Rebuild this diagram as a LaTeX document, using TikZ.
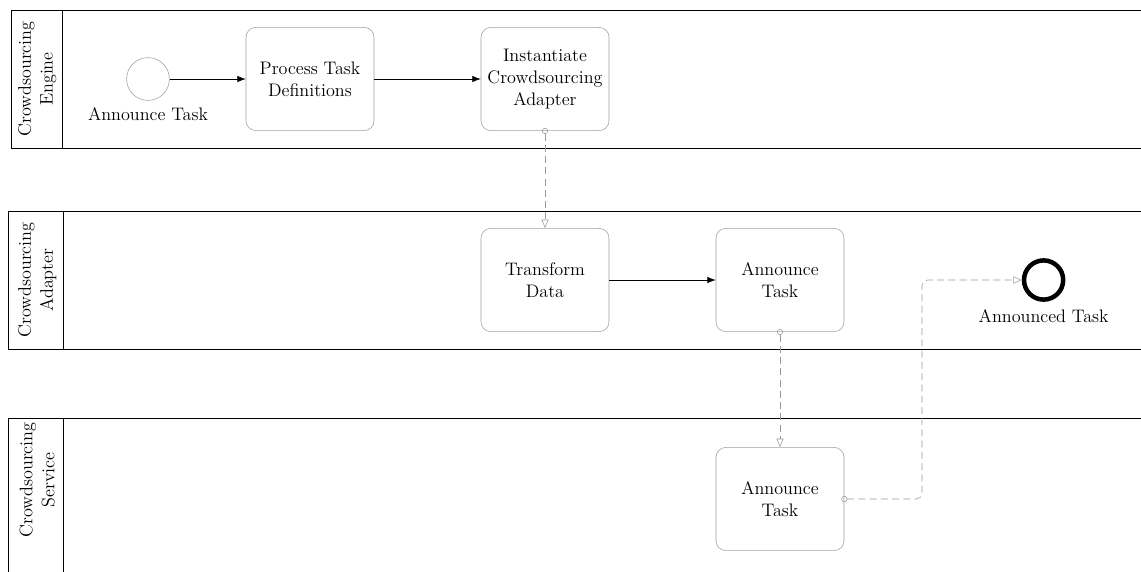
\documentclass[tikz,border=0pt]{standalone}
\usepackage{amsmath}
\usetikzlibrary{arrows.meta}

\tikzset{
  every node/.style={font=\fontsize{12.9pt}{15.6pt}\selectfont},
  task/.style={draw=gray!75, rounded corners=7pt, minimum width=3.2cm, minimum height=2.58cm, align=center},
  startev/.style={draw=gray!75, circle, minimum size=1.07cm},
  endev/.style={draw, circle, line width=3.2pt, minimum size=0.98cm},
  seqflow/.style={-{Latex[length=6pt,width=4.5pt]}},
  msgflow/.style={draw=black!40, dash pattern=on 5pt off 3pt, rounded corners=4pt,
    {Circle[open,length=4.3pt]}-{Triangle[open,length=6pt,width=5pt]}, shorten <=-2.1pt},
  lanelabel/.style={rotate=90, align=center},
  laneline/.style={line width=0.6pt}
}

\begin{document}
\begin{tikzpicture}
    \useasboundingbox (0,0) rectangle (28.525,-14.275);
    % lanes
    \draw[laneline] (28.6,-0.25) -| (0.275,-3.7) -- (28.6,-3.7);
    \draw[laneline] (1.55,-0.25) -- (1.55,-3.7);
    \draw[laneline] (28.6,-5.275) -| (0.2,-8.725) -- (28.6,-8.725);
    \draw[laneline] (1.575,-5.275) -- (1.575,-8.725);
    \draw[laneline] (28.6,-10.45) -| (0.2,-14.3);
    \draw[laneline] (1.575,-10.45) -- (1.575,-14.3);
    \node[lanelabel] (l1) at (0.93,-1.975) {Crowdsourcing\\Engine};
    \node[lanelabel] (l2) at (0.93,-7.0) {Crowdsourcing\\Adapter};
    \node[lanelabel] (l3) at (0.93,-12.0) {Crowdsourcing\\Service};
    % crowdsourcing engine
    \node[startev] (s) at (3.7,-1.975) {};
    \node (sl) at (3.7,-2.85) {Announce Task};
    \node[task] (a) at (7.75,-1.975) {Process Task\\Definitions};
    \node[task] (b) at (13.625,-1.975) {Instantiate\\Crowdsourcing\\Adapter};
    % crowdsourcing adapter
    \node[task] (c) at (13.625,-7.0) {Transform\\Data};
    \node[task] (d) at (19.5,-7.0) {Announce\\Task};
    \node[endev] (e) at (26.09,-7.0) {};
    \node (el) at (26.09,-7.9) {Announced Task};
    % crowdsourcing service
    \node[task] (f) at (19.5,-12.475) {Announce\\Task};
    \coordinate (k) at (23.05,-12.475);
    \draw [seqflow] (s) to (a);
    \draw [seqflow] (a) to (b);
    \draw [seqflow] (c) to (d);
    \draw [msgflow] (b) to (c);
    \draw [msgflow] (d) to (f);
    \draw [msgflow] (f) -- (k) |- (e);
\end{tikzpicture}
\end{document}
